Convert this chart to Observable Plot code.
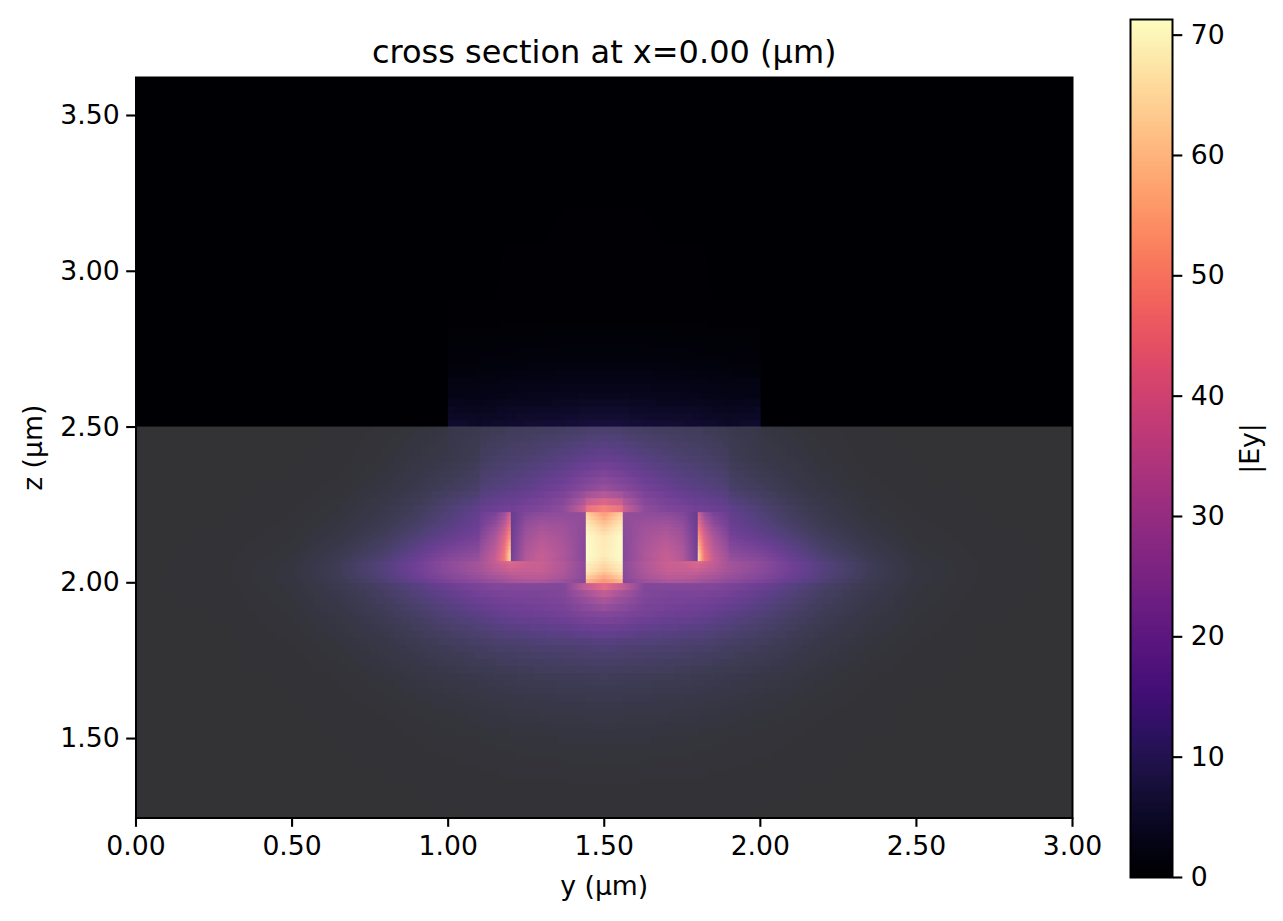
<!DOCTYPE html>
<html><head><meta charset="utf-8">
<script src="https://cdn.jsdelivr.net/npm/d3@7"></script>
<script src="https://cdn.jsdelivr.net/npm/@observablehq/plot@0.6"></script>
<style>
html,body{margin:0;padding:0;background:#fff}
#wrap{position:relative;width:1283px;height:921px;overflow:hidden}
#wrap svg{position:absolute;top:0;overflow:visible}
</style></head><body><div id="wrap"></div>
<script>
const titleText = "cross section at x=0.00 (µm)";
const xLabel = "y (µm)", yLabel = "z (µm)", barLabel = "|Ey|";
const xTicks = [0, 0.5, 1, 1.5, 2, 2.5, 3];
const yTicks = [1.5, 2, 2.5, 3, 3.5];
const barTicks = [0, 10, 20, 30, 40, 50, 60, 70];
const xDomain = [0, 3], yDomain = [1.245, 3.622], valueDomain = [0, 71.3];
const substrateTop = 2.5;
// The field reads as mirror-symmetric about y=1.50: columns are read on the left half.
const yCols = [0,.3,.5,.65,.8,.9,.9995,1.0005,1.0995,1.1005,1.15,1.18,1.1995,1.2005,1.25,1.3,1.37,1.4395,1.4405,1.5];
const zRows = [1.24,1.35,1.5,1.6,1.7,1.8,1.9,1.96,1.9995,2.0005,2.02,2.04,2.0695,2.0705,2.09,2.15,2.19,2.2245,2.2255,2.3,2.4,2.4995,2.5005,2.6,2.7,2.85,3.63];
const field = [
/*1.24*/ [0,0,0,0,.1,.1,.2,.2,.2,.2,.2,.2,.2,.2,.2,.2,.2,.2,.2,.2],
/*1.35*/ [0,0,0,.1,.2,.3,.4,.4,.5,.5,.6,.6,.6,.6,.7,.7,.7,.8,.8,.9],
/*1.5 */ [0,0,.1,.25,.5,.85,1.15,1.15,1.4,1.4,1.55,1.65,1.7,1.7,1.8,1.9,2,2,2.1,2.1],
/*1.6 */ [0,0,.15,.5,1,1.6,2,2,2.5,2.5,2.8,2.9,3,3,3.2,3.3,3.5,3.6,3.7,3.8],
/*1.7 */ [0,.1,.35,.95,2,2.8,3.6,3.6,4.4,4.4,4.8,5,5.2,5.2,5.5,5.7,6,6.2,6.3,6.5],
/*1.8 */ [0,.2,.8,1.9,3.5,5,6.5,6.5,7.8,7.8,8.5,8.8,9,9,9.3,9.8,10.2,10.5,10.5,11],
/*1.9 */ [0,.35,1.5,3.2,5.8,8.2,10.8,10.8,13,13,14.5,15.2,15.8,15.8,16.5,17,18.2,20.5,20.5,21.5],
/*1.96*/ [0,.5,1.9,4.2,7.5,10.8,14,14,17.5,17.5,18.5,19,19.3,19.3,19.5,19.8,21,27,27,33],
/*2.0-*/ [0,.7,2.2,5,9,12.8,17,17,20.5,20.5,21.8,22.5,22.5,22.5,22,21.5,21,38,38,46],
/*2.0+*/ [0,.75,2.3,5.2,10,14.2,18.8,18.8,22.8,22.8,25,26.5,27.5,28,29,29,26,21,56,50],
/*2.02*/ [0,.8,2.4,5.8,11.2,16.5,22,22,26.5,26.5,30,31,32.5,32.5,34,34,30,23,64,56],
/*2.04*/ [0,.8,2.4,6,11.8,17.2,23.2,23.2,28.5,28.5,33,35,37,37,36,36,31,23,68,62],
/*2.07-*/[0,.8,2.2,5.8,11.8,17.2,24,24,29,29,36,40,42,42,38,37,32,24,70,66],
/*2.07+*/[0,.75,2.1,5.5,11,16.5,22.5,22.5,27,28,36,46,64,18,32,36,30,22,71,66],
/*2.09*/ [0,.65,1.8,4.9,9.5,14.8,20.5,20.5,24.5,27,35,46,64,17,32,36,31,22,71,68],
/*2.15*/ [0,.45,1.3,3.2,6.8,10.5,14.5,14.5,18.5,21,30,40,52,16,28,32,29,23,71,67],
/*2.19*/ [0,.3,1,2.5,5.2,8.2,12,12,15.8,17.5,24,33,44,15,25,28,27,24,68,60],
/*2.225-*/[0,.25,.8,2,4.5,7,10.8,10.8,14.8,16.3,19,26,38,15,21,23,24,25,62,52],
/*2.225+*/[0,.25,.8,2,4.5,7,10.8,10.8,14.8,15.8,17.3,18.5,19,18,20.5,21.5,25,40,47,52],
/*2.3 */ [0,.1,.4,1.1,2.8,4.5,6.8,6.8,9,10.5,11.8,12.2,12.8,12.8,14,16,18.5,23,23,26.5],
/*2.4 */ [0,0,.15,.5,1.6,2.8,4,4,5.8,6.8,8,8.5,9,9,9.5,10.5,12,14,14,15],
/*2.5-*/ [0,0,.1,.3,1,1.8,2.8,3.8,4.5,5,5.5,6,6.3,6.3,6.7,7,7.5,8.3,8.5,9],
/*2.5+*/ [0,0,0,0,0,0,0,6.5,5.5,5.5,6,6.3,6.5,6.5,6.8,7,7.3,7.8,8,8],
/*2.6 */ [0,0,0,0,0,0,0,3,3,3,3.2,3.3,3.4,3.4,3.6,3.7,3.8,4,4,4],
/*2.7 */ [0,0,0,0,0,0,0,1.4,1.5,1.5,1.6,1.7,1.7,1.7,1.8,1.9,2,2,2,2],
/*2.85*/ [0,0,0,0,0,0,0,.3,.3,.3,.3,.4,.4,.4,.4,.4,.5,.5,.5,.5],
/*3.63*/ [0,0,0,0,0,0,0,0,0,0,0,0,0,0,0,0,0,0,0,0]
];
// mesh bands seen in the picture: segment ends and cell height in each
const meshBreaks = [1.24, 2.0, 2.07, 2.225, 2.5, 3.63];
const meshSteps = [.0225, .012, .012, .0225, .0225];
const fontFamily = "'DejaVu Sans'";
const tickFont = 26.67, titleFont = 32;

function snapZ(z) {
  const s = Math.min(d3.bisectRight(meshBreaks, z) - 1, meshSteps.length - 1);
  const lo = meshBreaks[s], hi = meshBreaks[s + 1], n = Math.max(1, Math.round((hi - lo) / meshSteps[s]));
  const k = Math.min(n - 1, Math.floor((z - lo) / (hi - lo) * n));
  return lo + (k + .5) * (hi - lo) / n;
}
function sampleField(y, z) {
  const u = y > 1.5 ? 3 - y : y, w = snapZ(z);
  const i = Math.max(0, Math.min(yCols.length - 2, d3.bisectRight(yCols, u) - 1));
  const j = Math.max(0, Math.min(zRows.length - 2, d3.bisectRight(zRows, w) - 1));
  const a = (u - yCols[i]) / (yCols[i + 1] - yCols[i]), b = (w - zRows[j]) / (zRows[j + 1] - zRows[j]);
  const r0 = field[j], r1 = field[j + 1];
  return (r0[i] * (1 - a) + r0[i + 1] * a) * (1 - b) + (r1[i] * (1 - a) + r1[i + 1] * a) * b;
}
const color = {type: "linear", scheme: "magma", domain: valueDomain};
const main = Plot.plot({
  width: 1110, height: 921,
  marginLeft: 135.5, marginRight: 38, marginTop: 77, marginBottom: 103.5,
  style: {fontFamily, fontSize: tickFont + "px", background: "transparent", color: "#000"},
  x: {domain: xDomain}, y: {domain: yDomain}, color,
  marks: [
    Plot.raster({x1: xDomain[0], x2: xDomain[1], y1: yDomain[0], y2: yDomain[1], pixelSize: 1, fill: sampleField}),
    Plot.rect([0], {x1: xDomain[0], x2: xDomain[1], y1: yDomain[0], y2: substrateTop, fill: "white", fillOpacity: .2}),
    Plot.frame({stroke: "black", strokeWidth: 2}),
    Plot.axisX({ticks: xTicks, tickFormat: d3.format(".2f"), tickSize: 9.3, tickPadding: 9, strokeWidth: 2.1, fontSize: tickFont, label: null}),
    Plot.axisY({ticks: yTicks, tickFormat: d3.format(".2f"), tickSize: 9.3, tickPadding: 7, strokeWidth: 2.1, fontSize: tickFont, label: null}),
    Plot.text([titleText], {frameAnchor: "top", dy: -25, fontSize: titleFont, text: d => d, lineAnchor: "middle"}),
    Plot.text([xLabel], {frameAnchor: "bottom", dy: 68, fontSize: tickFont, text: d => d, lineAnchor: "middle"}),
    Plot.text([yLabel], {frameAnchor: "left", dx: -103, rotate: -90, fontSize: tickFont, textAnchor: "middle", text: d => d})
  ]
});
main.style.left = "0px";
const bar = Plot.plot({
  width: 173, height: 921,
  marginLeft: 20, marginRight: 111, marginTop: 19, marginBottom: 44,
  style: {fontFamily, fontSize: tickFont + "px", background: "transparent", color: "#000"},
  x: {domain: [0, 1], axis: null}, y: {domain: valueDomain}, color,
  marks: [
    Plot.raster({x1: 0, x2: 1, y1: valueDomain[0], y2: valueDomain[1], pixelSize: 1, fill: (x, v) => v}),
    Plot.frame({stroke: "black", strokeWidth: 2}),
    Plot.axisY({anchor: "right", ticks: barTicks, tickFormat: d3.format("d"), tickSize: 9.3, tickPadding: 9, strokeWidth: 2.1, fontSize: tickFont, label: null}),
    Plot.text([barLabel], {frameAnchor: "right", dx: 78, rotate: -90, fontSize: tickFont, textAnchor: "middle", text: d => d})
  ]
});
bar.style.left = "1110px";
document.getElementById("wrap").append(main, bar);
</script></body></html>
